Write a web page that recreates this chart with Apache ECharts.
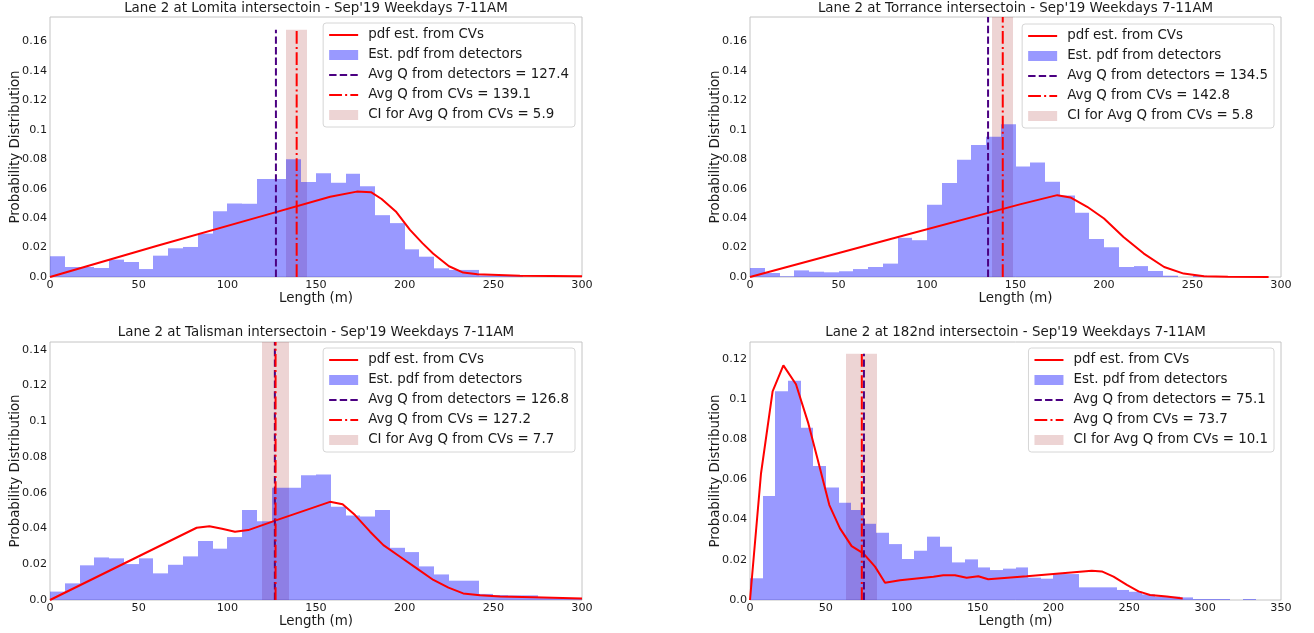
<!DOCTYPE html>
<html>
<head>
<meta charset="utf-8">
<script src="https://cdn.jsdelivr.net/npm/echarts@6/dist/echarts.min.js"></script>
<style>
html,body{margin:0;padding:0;background:#fff;}
#main{width:1314px;height:633px;}
</style>
</head>
<body>
<div id="main"></div>
<script>
var binWidth = 300 / 36;

var titles = [
    "Lane 2 at Lomita intersectoin - Sep'19 Weekdays 7-11AM",
    "Lane 2 at Torrance intersectoin - Sep'19 Weekdays 7-11AM",
    "Lane 2 at Talisman intersectoin - Sep'19 Weekdays 7-11AM",
    "Lane 2 at 182nd intersectoin - Sep'19 Weekdays 7-11AM"
];

// detector histogram, probability per 8.33 m bin
var histLomita = [0.0141, 0.0068, 0.0068, 0.0061, 0.0118, 0.0102, 0.0054, 0.0145, 0.0195, 0.0204, 0.0295, 0.0447,
    0.0500, 0.0497, 0.0665, 0.0665, 0.0800, 0.0645, 0.0704, 0.0640, 0.0701, 0.0617, 0.0420, 0.0366,
    0.0188, 0.0138, 0.0059, 0.0048, 0.0048, 0.0011, 0.0011, 0.0011, 0, 0, 0, 0];
var histTorrance = [0.0061, 0.0027, 0.0005, 0.0045, 0.0036, 0.0032, 0.0039, 0.0054, 0.0068, 0.0091, 0.0266, 0.0250,
    0.0490, 0.0638, 0.0797, 0.0897, 0.0953, 0.1037, 0.0750, 0.0778, 0.0647, 0.0554, 0.0436, 0.0258,
    0.0202, 0.0068, 0.0074, 0.0041, 0.0009, 0, 0.0009, 0, 0, 0, 0, 0];
var histTalisman = [0.0047, 0.0093, 0.0194, 0.0238, 0.0233, 0.0201, 0.0233, 0.0149, 0.0197, 0.0244, 0.0330, 0.0287,
    0.0352, 0.0503, 0.0441, 0.0628, 0.0628, 0.0698, 0.0702, 0.0521, 0.0473, 0.0467, 0.0503, 0.0292,
    0.0268, 0.0188, 0.0143, 0.0108, 0.0108, 0.0034, 0.0028, 0.0026, 0.0026, 0.0015, 0.0011, 0.0007];
var hist182nd = [0.0108, 0.0517, 0.1038, 0.1090, 0.0856, 0.0666, 0.0560, 0.0483, 0.0447, 0.0379, 0.0334, 0.0278,
    0.0204, 0.0245, 0.0315, 0.0265, 0.0187, 0.0202, 0.0162, 0.0149, 0.0156, 0.0162, 0.0111, 0.0106,
    0.0129, 0.0129, 0.0063, 0.0063, 0.0063, 0.0050, 0.0041, 0.0028, 0.0017, 0.0017, 0.0013, 0.0005,
    0.0005, 0.0005, 0, 0.0005];

// pdf estimated from CVs, [length, pdf]
var pdfLomita = [[0, 0], [60, 0.021], [120, 0.0415], [158, 0.0545], [173, 0.058], [181, 0.0576], [187, 0.053],
    [195, 0.0445], [203, 0.032], [210, 0.023], [216, 0.016], [225, 0.0073], [233, 0.003], [241, 0.0018],
    [265, 0.0009], [300, 0.0005]];
var pdfTorrance = [[0, 0], [80, 0.026], [153, 0.0495], [173.6, 0.0556], [181, 0.054], [190.5, 0.0477], [200, 0.0397],
    [211, 0.0272], [222.5, 0.0159], [234, 0.0068], [245, 0.0023], [256.5, 0.0005], [270, 0.0001], [293, 0]];
var pdfTalisman = [[0, 0], [82.7, 0.0404], [89.9, 0.0413], [97, 0.0398], [104.3, 0.0382], [111.8, 0.0391],
    [127.8, 0.0447], [157.9, 0.0549], [165, 0.0536], [172, 0.0475], [180.5, 0.0382], [188, 0.0307],
    [197.4, 0.0242], [206.8, 0.0177], [216.2, 0.0112], [224.7, 0.0069], [233, 0.0037], [242.5, 0.0026],
    [253.8, 0.0019], [272.6, 0.0015], [300, 0.0009]];
var pdf182nd = [[0, 0], [7.25, 0.0629], [14.9, 0.1038], [22, 0.1167], [30.3, 0.1073], [38.5, 0.0877], [45, 0.0687],
    [52.3, 0.0472], [59.3, 0.0356], [67, 0.0268], [74.7, 0.0232], [82.4, 0.0166], [89, 0.0086], [98.9, 0.0098],
    [120.9, 0.0116], [127.4, 0.0123], [135.1, 0.0123], [142.8, 0.0111], [150.5, 0.0118], [157, 0.0103],
    [182.4, 0.0118], [225.3, 0.0146], [231.9, 0.0142], [239.6, 0.0116], [248.4, 0.0075], [256.1, 0.0043],
    [263.7, 0.0025], [274.7, 0.0017], [285.2, 0.0008]];

var detAvg = [127.4, 134.5, 126.8, 75.1];
var cvAvg = [139.1, 142.8, 127.2, 73.7];
var ciHalf = [5.9, 5.8, 7.7, 10.1];
var vlineTop = [0.168, 0.1766, 0.1443, 0.1225];
var yMax = [0.1766, 0.1766, 0.1443, 0.1283];
var xMax = [300, 300, 300, 350];

var hists = [histLomita, histTorrance, histTalisman, hist182nd];
var pdfs = [pdfLomita, pdfTorrance, pdfTalisman, pdf182nd];

var FONT = 'DejaVu Sans';
var TXT = '#1a1a1a';
var HIST_COLOR = 'rgba(0,0,255,0.4)';
var CI_COLOR = 'rgba(165,42,42,0.2)';

var grids = [
    {left: 50, top: 17, width: 532, height: 260},
    {left: 750, top: 17, width: 531, height: 260},
    {left: 50, top: 342, width: 532, height: 258},
    {left: 750, top: 342, width: 531, height: 258}
];
var legendPos = [
    {right: 739, top: 23},
    {right: 40, top: 24},
    {right: 739, top: 348},
    {right: 40, top: 348}
];
var titlePos = [
    {left: 316, top: 2},
    {left: 1015.5, top: 2},
    {left: 316, top: 326},
    {left: 1015.5, top: 326}
];

function renderRect(params, api) {
    var p0 = api.coord([api.value(0), api.value(2)]);
    var p1 = api.coord([api.value(1), 0]);
    var x0 = Math.round(p0[0]), x1 = Math.round(p1[0]);
    return {
        type: 'rect',
        shape: {x: x0, y: p0[1], width: x1 - x0, height: p1[1] - p0[1]},
        style: {fill: api.visual('color')}
    };
}

function yLabel(v) {
    if (v === 0) return '0.0';
    return String(+v.toFixed(2));
}

var option = {
    animation: false,
    backgroundColor: '#fff',
    textStyle: {fontFamily: FONT, color: TXT},
    title: [],
    legend: [],
    grid: [],
    xAxis: [],
    yAxis: [],
    series: []
};

// no marker dot on the line entries of the legend
var noDot = {opacity: 0};

for (var i = 0; i < 4; i++) {
    var g = grids[i];
    option.grid.push({
        left: g.left, top: g.top, width: g.width, height: g.height,
        show: true, borderColor: '#c4c4c4', borderWidth: 1, backgroundColor: 'transparent'
    });
    option.title.push({
        text: titles[i], left: titlePos[i].left, top: titlePos[i].top, textAlign: 'center', padding: 0,
        textStyle: {fontFamily: FONT, fontSize: 13.4, fontWeight: 'normal', color: TXT}
    });
    option.xAxis.push({
        type: 'value', gridIndex: i, min: 0, max: xMax[i], interval: 50,
        axisLine: {show: false}, axisTick: {show: false}, splitLine: {show: false},
        axisLabel: {fontSize: 11.2, color: TXT, margin: 3, fontFamily: FONT},
        name: 'Length (m)', nameLocation: 'middle', nameGap: 11,
        nameTextStyle: {fontSize: 13.4, color: TXT, fontFamily: FONT}
    });
    option.yAxis.push({
        type: 'value', gridIndex: i, min: 0, max: yMax[i], interval: 0.02,
        axisLine: {show: false}, axisTick: {show: false}, splitLine: {show: false},
        axisLabel: {fontSize: 11.2, color: TXT, margin: 3, fontFamily: FONT, showMaxLabel: false, formatter: yLabel},
        name: 'Probability Distribution', nameLocation: 'middle', nameGap: 28, nameMoveOverlap: false,
        nameTextStyle: {fontSize: 13.4, color: TXT, fontFamily: FONT}
    });

    var detName = 'Avg Q from detectors = ' + detAvg[i];
    var cvName = 'Avg Q from CVs = ' + cvAvg[i];
    var ciName = 'CI for Avg Q from CVs = ' + ciHalf[i];

    var histData = hists[i].map(function (p, k) {
        return [k * binWidth, (k + 1) * binWidth, p];
    });

    option.series.push({
        name: ciName, type: 'custom', xAxisIndex: i, yAxisIndex: i, z: 1,
        itemStyle: {color: CI_COLOR},
        encode: {x: [0, 1], y: 2},
        renderItem: renderRect,
        data: [[cvAvg[i] - ciHalf[i], cvAvg[i] + ciHalf[i], vlineTop[i]]]
    });
    option.series.push({
        name: 'Est. pdf from detectors', type: 'custom', xAxisIndex: i, yAxisIndex: i, z: 2,
        itemStyle: {color: HIST_COLOR},
        encode: {x: [0, 1], y: 2},
        renderItem: renderRect,
        data: histData
    });
    option.series.push({
        name: 'pdf est. from CVs', type: 'line', xAxisIndex: i, yAxisIndex: i, z: 3,
        symbol: 'none', smooth: false,
        lineStyle: {color: '#ff0000', width: 2},
        itemStyle: {color: '#ff0000'},
        data: pdfs[i]
    });
    option.series.push({
        name: detName, type: 'line', xAxisIndex: i, yAxisIndex: i, z: 4,
        symbol: 'none',
        lineStyle: {color: '#4b0082', width: 2, type: [7.4, 3.2]},
        itemStyle: {color: '#4b0082'},
        data: [[detAvg[i], 0], [detAvg[i], vlineTop[i]]]
    });
    option.series.push({
        name: cvName, type: 'line', xAxisIndex: i, yAxisIndex: i, z: 4,
        symbol: 'none',
        lineStyle: {color: '#ff0000', width: 2, type: [12.8, 3.2, 2, 3.2]},
        itemStyle: {color: '#ff0000'},
        data: [[cvAvg[i], 0], [cvAvg[i], vlineTop[i]]]
    });

    option.legend.push({
        orient: 'vertical', right: legendPos[i].right, top: legendPos[i].top,
        padding: [2, 6, 2, 5], itemGap: 0, itemWidth: 29, itemHeight: 10,
        backgroundColor: 'rgba(255,255,255,0.8)', borderColor: '#d6d6d6', borderWidth: 1, borderRadius: 3,
        selectedMode: false,
        textStyle: {fontSize: 13.4, color: TXT, fontFamily: FONT, lineHeight: 20, padding: [0, 0, 0, 5]},
        data: [
            {name: 'pdf est. from CVs', itemStyle: noDot},
            {name: 'Est. pdf from detectors', icon: 'rect'},
            {name: detName, itemStyle: noDot},
            {name: cvName, itemStyle: noDot},
            {name: ciName, icon: 'rect'}
        ]
    });
}

var chart = echarts.init(document.getElementById('main'), null, {renderer: 'canvas'});
chart.setOption(option);
</script>
</body>
</html>
